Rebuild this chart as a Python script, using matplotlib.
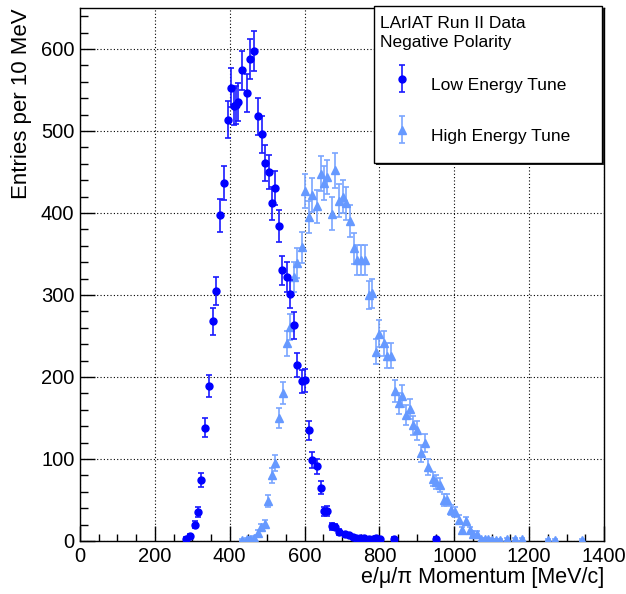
import numpy as np
import matplotlib
matplotlib.use("Agg")
import matplotlib.pyplot as plt
from matplotlib.ticker import MultipleLocator
from matplotlib.patches import Rectangle
from matplotlib.container import ErrorbarContainer
from matplotlib.legend_handler import HandlerErrorbar

plt.rcParams['font.family'] = ['Liberation Sans', 'DejaVu Sans']

# ---------------- data ----------------
low_x = [282, 293, 306, 314, 324, 334, 345, 355, 364, 375, 384, 395, 404, 412, 417, 423,
         433, 445, 455, 464, 475, 485, 494, 504, 512, 522, 532, 541, 552, 562, 572, 581,
         592, 601, 612, 621, 632, 643, 652, 661, 672, 682, 692, 707, 718, 729, 738, 747,
         760, 772, 782, 791, 802, 840, 952]
low_y = [3, 6, 20, 35, 74, 138, 189, 268, 305, 397, 437, 514, 553, 530, 532, 535,
         574, 546, 588, 597, 518, 496, 461, 450, 412, 430, 384, 330, 322, 301, 263, 215,
         195, 196, 135, 99, 91, 65, 36, 37, 18, 17, 11, 8, 7, 5, 4, 4,
         4, 3, 3, 4, 2, 3, 3]

high_x = [433, 445, 455, 465, 475, 484, 493, 502, 512, 521, 531, 542, 552, 562, 572, 581,
          592, 601, 611, 621, 632, 643, 652, 661, 672, 682, 692, 702, 711, 722, 731, 741,
          751, 761, 772, 781, 791, 800, 811, 821, 830, 841, 851, 861, 871, 881, 891, 901,
          911, 922, 931, 942, 952, 962, 972, 981, 992, 1002, 1012, 1021, 1032, 1041, 1051, 1060,
          1072, 1083, 1091, 1101, 1112, 1121, 1140, 1161, 1181, 1250, 1270, 1341]
high_y = [1, 2, 3, 4, 10, 17, 21, 49, 80, 95, 150, 181, 241, 261, 322, 339,
          358, 427, 395, 422, 408, 448, 437, 444, 399, 452, 415, 420, 412, 390, 357, 343,
          343, 343, 300, 302, 231, 253, 241, 226, 226, 183, 168, 177, 154, 161, 141, 135,
          107, 119, 90, 76, 72, 68, 50, 50, 38, 35, 26, 13, 24, 13, 9, 9,
          2, 2, 2, 1, 1, 1, 2, 2, 2, 1, 1, 1]

low_label = "Low Energy Tune"
high_label = "High Energy Tune"
legend_title = "LArIAT Run II Data\nNegative Polarity"
x_title = "e/\u03bc/\u03c0 Momentum [MeV/c]"
y_title = "Entries per 10 MeV"

# ---------------- figure ----------------
W, H = 626, 594
fig = plt.figure(figsize=(W / 100, H / 100), dpi=100)
ax = fig.add_axes([80 / W, 53 / H, 524 / W, 533 / H])

low_col = '#0000ff'
high_col = '#6699ff'

low_err = np.sqrt(np.array(low_y, dtype=float))
high_err = np.sqrt(np.array(high_y, dtype=float))

eh = ax.errorbar(high_x, high_y, yerr=high_err, fmt='^', color=high_col, ms=5.5,
                 ecolor='#7aa6ff', elinewidth=1.2, capsize=2, capthick=1.2, zorder=3,
                 label=high_label)
el = ax.errorbar(low_x, low_y, yerr=low_err, fmt='o', color=low_col, ms=5,
                 ecolor='#1a1aff', elinewidth=1.2, capsize=2, capthick=1.2, zorder=4,
                 label=low_label)

ax.set_xlim(0, 1400)
ax.set_ylim(0, 650)
ax.xaxis.set_major_locator(MultipleLocator(200))
ax.xaxis.set_minor_locator(MultipleLocator(50))
ax.yaxis.set_major_locator(MultipleLocator(100))
ax.yaxis.set_minor_locator(MultipleLocator(20))
ax.tick_params(which='both', direction='in', top=False, right=False, width=1, color='black')
ax.tick_params(which='major', length=10.8, labelsize=14.5, pad=4)
ax.tick_params(which='minor', length=5.4)
ax.grid(True, which='major', linestyle=(0, (1, 2)), color='black', linewidth=0.8)
ax.set_axisbelow(True)
for s in ax.spines.values():
    s.set_linewidth(1.0)
    s.set_color('black')

ax.set_xlabel(x_title, fontsize=15.5, ha='right')
ax.xaxis.set_label_coords((604 - 80) / 524, -(578 - 541) / 533)
ax.xaxis.label.set_va('center')
ax.set_ylabel(y_title, fontsize=16, ha='right')
ax.yaxis.set_label_coords((22 - 80) / 524, (541 - 8) / 533)
ax.yaxis.label.set_va('center')

# ---------------- legend ----------------
bx0, by0, bx1, by1 = 374, 6, 602, 163
shadow = Rectangle(((bx0 + 2) / W, 1 - (by1 + 2) / H), (bx1 - bx0) / W, (by1 - by0) / H,
                   transform=fig.transFigure, facecolor='#222222', edgecolor='none', zorder=3.9)
box = Rectangle((bx0 / W, 1 - by1 / H), (bx1 - bx0) / W, (by1 - by0) / H,
                transform=fig.transFigure, facecolor='white', edgecolor='black',
                linewidth=1.0, zorder=4)
fig.add_artist(shadow)
fig.add_artist(box)

leg = fig.legend([el, eh], [low_label, high_label], loc='upper left',
                 bbox_to_anchor=((bx0 - 4) / W, 1 - by0 / H), bbox_transform=fig.transFigure,
                 frameon=False, fontsize=12.5, title=legend_title, title_fontsize=12.5,
                 alignment='left', borderpad=0.59, handlelength=2.5, handletextpad=0.45,
                 handleheight=2.63, labelspacing=0.98, borderaxespad=0,
                 handler_map={ErrorbarContainer: HandlerErrorbar(xerr_size=0.5, yerr_size=0.8)})
leg.get_title().set_linespacing(1.35)
leg.set_zorder(6)

fig.savefig('out.png', dpi=100)
